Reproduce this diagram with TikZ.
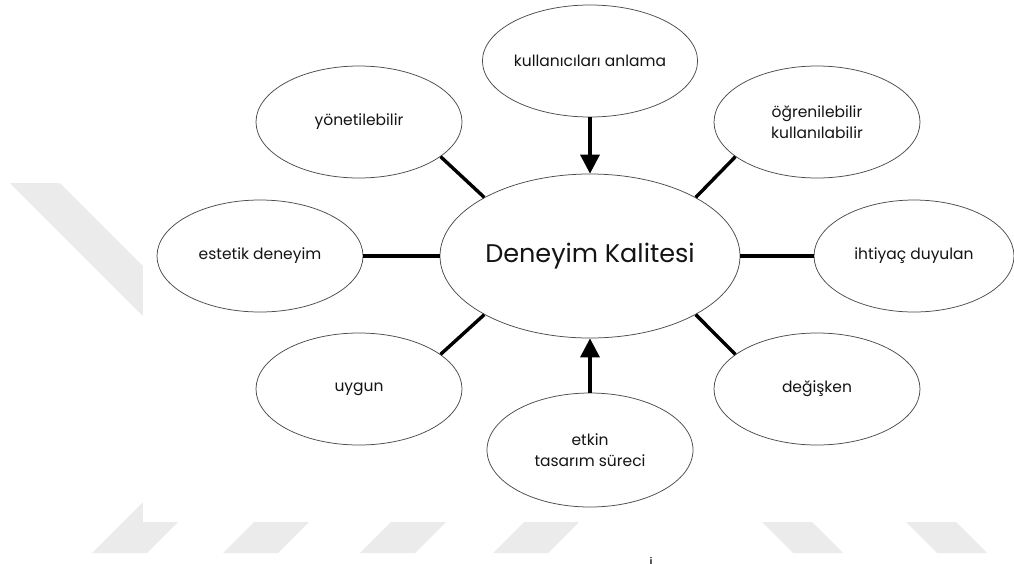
\documentclass[tikz,border=0pt]{standalone}
\usepackage{fontspec}
\setmainfont{Poppins}
\usetikzlibrary{shapes.geometric,arrows.meta}

\begin{document}
\begin{tikzpicture}[x=1pt,y=-1pt,
  bubble/.style={ellipse, draw=black!70, line width=0.75pt, inner sep=0pt,
    align=center, text=black!92, font=\fontsize{15.5}{21}\selectfont,
    minimum width=206pt, minimum height=112pt},
  link/.style={line width=3.4pt, black},
  feed/.style={line width=3.4pt, black, -{Triangle[length=19pt,width=19pt]}},
  wmark/.style={fill=black!8, draw=none}
]
\useasboundingbox (0,0) rectangle (1014,563);

% faint background stripes
\fill[wmark] (10,183) -- (60,183) -- (210,333) -- (160,333) -- cycle;
\foreach \b in {92,223,360,493}
  \fill[wmark] (\b,553) -- (\b+55,553) -- (\b+110,498) -- (\b+55,498) -- cycle;
\foreach \b in {738,882}
  \fill[wmark] (\b,498) -- (\b+50,498) -- (\b+105,553) -- (\b+55,553) -- cycle;
\fill[white] (143,0) rectangle (1014,522);

% bubbles
\node[bubble, minimum width=300pt, minimum height=164pt,
      font=\fontsize{25.5}{30}\selectfont] (dq) at (590,256) {Deneyim Kalitesi};
\node[bubble] (top) at (590,61)  {kullanıcıları anlama};
\node[bubble] (yon) at (359,122) {yönetilebilir};
\node[bubble] (ogr) at (817,122) {öğrenilebilir\\kullanılabilir};
\node[bubble] (est) at (260,256) {estetik deneyim};
\node[bubble, minimum width=200pt] (iht) at (914,256) {ihtiyaç duyulan};
\node[bubble] (uyg) at (359,389) {uygun};
\node[bubble] (deg) at (817,389) {değişken};
\node[bubble, minimum height=114pt] (etk) at (590,450) {etkin\\tasarım süreci};

% connectors
\draw[feed] (top.south) -- (dq.north);
\draw[feed] (etk.north) -- (dq.south);
\draw[link] (yon.-23) -- (dq.151);
\draw[link] (ogr.-157) -- (dq.29);
\draw[link] (uyg.23) -- (dq.-151);
\draw[link] (deg.157) -- (dq.-29);
\draw[link] (est.east) -- (dq.west);
\draw[link] (iht.west) -- (dq.east);

% start of the caption line below
\node[anchor=north, inner sep=0pt, font=\fontsize{14}{16}\selectfont] (cap) at (651,557) {İ};
\end{tikzpicture}
\end{document}
